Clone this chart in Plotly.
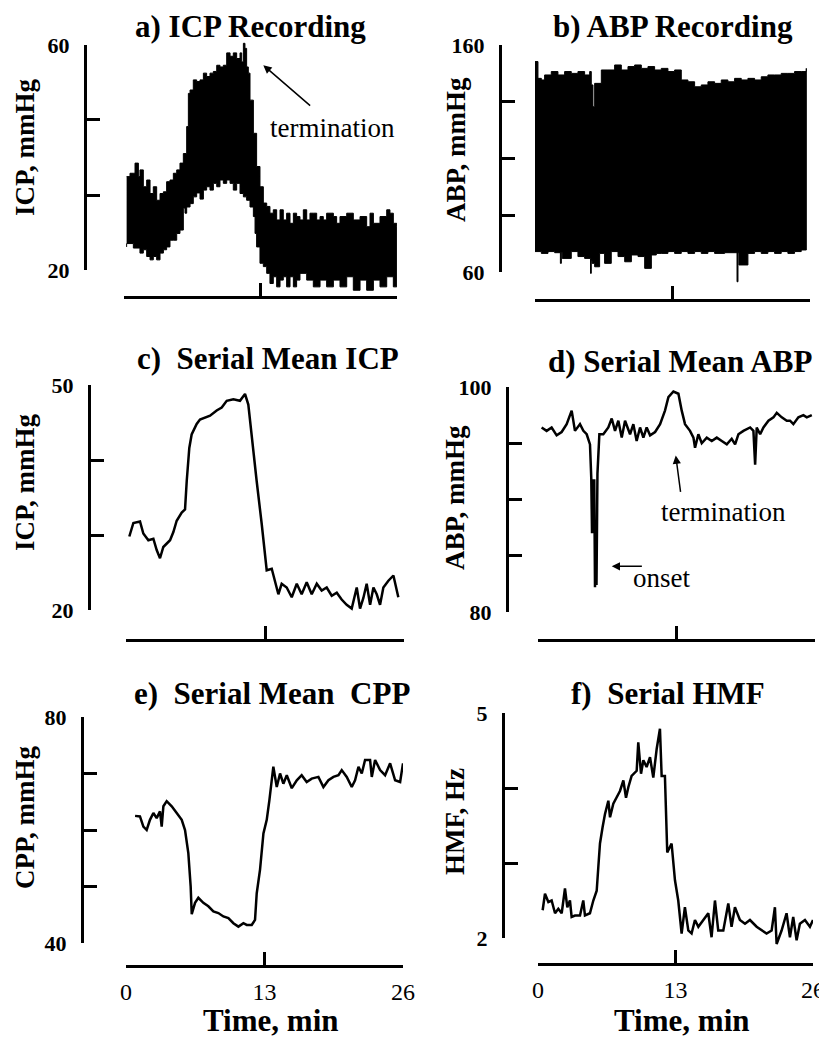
import plotly.graph_objects as go

# page body keeps its default 8 px margin, so the figure is 8 px smaller
PAGE_W, PAGE_H, OFF = 827, 1039, 8
W, H = PAGE_W - OFF, PAGE_H - OFF

# ---------------- data (time in min) ----------------
# a) ICP recording: upper / lower envelope of raw trace (mmHg)
icp_up_t = [0.25, 0.57, 0.89, 1.05, 1.37, 1.52, 1.84, 2.16, 2.48, 2.79,
            3.11, 3.43, 3.75, 4.06, 4.38, 4.70, 5.02, 5.33, 5.65, 5.97,
            6.13, 6.29, 6.60, 6.92, 7.24, 7.56, 7.87, 8.19, 8.51, 8.83,
            9.14, 9.46, 9.78, 10.10, 10.41, 10.73, 11.05, 11.21, 11.37, 11.52,
            11.68, 11.84, 12.0, 12.32, 12.63, 12.95, 13.27, 13.59, 13.90, 14.22,
            14.54, 14.86, 15.17, 15.49, 15.81, 16.13, 16.44, 16.76, 17.08, 17.40,
            17.71, 18.03, 18.35, 18.67, 18.98, 19.30, 19.94, 20.25, 20.57, 21.21,
            21.84, 22.48, 23.11, 23.43, 23.75, 24.38, 25.02, 25.33, 25.65, 25.97]
icp_up = [36.6, 37.2, 37.2, 39.0, 36.6, 37.8, 34.8, 36.0, 33.6, 34.8,
          32.4, 33.6, 33.9, 35.7, 36.0, 37.2, 37.8, 39.0, 40.7, 45.5,
          51.4, 52.0, 53.8, 53.5, 53.8, 55.0, 54.4, 55.0, 55.3, 56.4,
          56.1, 56.4, 58.6, 58.0, 58.6, 57.6, 58.6, 57.0, 60.3, 59.4,
          56.1, 55.0, 50.2, 44.3, 38.4, 34.8, 31.9, 31.3, 30.1, 30.7,
          28.9, 30.7, 28.9, 30.1, 28.3, 30.1, 29.5, 28.9, 30.7, 28.9,
          30.1, 30.1, 28.9, 29.5, 28.9, 30.1, 29.5, 28.3, 29.5, 30.1,
          28.9, 29.5, 27.7, 30.1, 28.3, 29.5, 30.7, 30.1, 28.3, 27.7]
icp_lo_t = [0.25, 0.89, 1.52, 1.84, 2.16, 2.48, 2.79, 3.11, 3.43, 3.75,
            4.06, 4.38, 4.70, 5.02, 5.33, 5.65, 5.81, 5.97, 6.29, 6.60,
            6.92, 7.24, 7.56, 7.87, 8.19, 8.51, 8.83, 9.14, 9.46, 9.78,
            10.10, 10.41, 10.73, 11.05, 11.37, 11.68, 12.0, 12.32, 12.48, 12.63,
            12.95, 13.27, 13.59, 13.90, 14.22, 14.54, 14.86, 15.17, 15.49, 15.81,
            16.13, 16.44, 16.76, 17.40, 18.03, 18.67, 19.30, 19.94, 20.57, 21.21,
            21.84, 22.48, 23.11, 23.75, 24.38, 25.02, 25.65, 25.97]
icp_lo = [24.1, 24.7, 23.9, 23.0, 23.6, 22.4, 21.8, 22.4, 21.8, 23.0,
          23.6, 24.1, 25.3, 25.3, 26.5, 27.1, 31.0, 30.1, 31.2, 31.8,
          33.0, 33.7, 32.6, 34.2, 34.8, 34.2, 35.4, 34.8, 36.0, 35.4,
          36.0, 35.4, 34.2, 35.4, 33.6, 33.0, 32.4, 31.2, 29.5, 26.5,
          24.1, 21.2, 20.6, 19.4, 17.6, 18.8, 17.0, 18.2, 18.8, 17.0,
          18.8, 17.0, 18.2, 19.4, 18.2, 17.0, 18.2, 17.0, 18.2, 17.0,
          18.8, 16.4, 18.2, 16.4, 18.2, 17.0, 18.8, 17.0]

# b) ABP recording envelope (mmHg)
abp_up_t = [0.0, 0.28, 0.60, 0.91, 1.54, 2.17, 2.80, 3.43, 4.06, 4.69,
            5.17, 5.32, 5.48, 5.64, 6.27, 6.90, 7.53, 8.16, 8.79, 9.42,
            10.05, 10.68, 11.31, 11.94, 12.57, 13.2, 13.83, 14.46, 15.09, 15.72,
            16.35, 16.98, 17.61, 18.24, 18.87, 19.5, 20.13, 20.76, 21.39, 22.02,
            22.65, 23.28, 23.91, 24.54, 25.17, 25.65]
abp_up = [152.7, 145.3, 144.6, 146.8, 148.3, 146.8, 148.3, 147.5, 148.3, 146.8,
          148.3, 142.4, 132.8, 143.1, 149.0, 149.0, 151.2, 149.0, 150.5, 151.2,
          149.7, 150.5, 149.0, 149.7, 148.3, 149.0, 144.6, 143.8, 141.6, 142.4,
          143.8, 143.1, 144.6, 143.8, 145.3, 144.6, 145.3, 144.6, 146.0, 146.8,
          146.8, 147.5, 147.5, 148.3, 148.3, 149.7]
abp_lo_t = [0.0, 0.60, 1.23, 1.86, 2.40, 2.49, 2.58, 3.43, 4.06, 4.69,
            5.25, 5.32, 5.40, 5.64, 6.11, 6.58, 7.21, 7.85, 8.48, 9.11,
            9.74, 10.37, 11.0, 11.47, 11.94, 12.57, 13.2, 13.83, 14.46, 15.09,
            15.72, 16.35, 16.98, 17.93, 19.10, 19.19, 19.28, 20.13, 20.76, 21.39,
            22.02, 22.65, 23.28, 23.91, 24.54, 25.17, 25.65]
abp_lo = [69.7, 69.0, 68.2, 69.0, 68.5, 63.8, 68.5, 66.0, 69.0, 66.8,
          66.0, 59.4, 65.0, 63.8, 62.3, 68.2, 63.8, 69.0, 66.8, 64.5,
          67.5, 66.8, 61.6, 67.5, 68.2, 68.2, 69.0, 68.2, 69.0, 68.2,
          69.0, 68.2, 69.0, 68.2, 68.5, 55.7, 68.5, 63.1, 68.2, 69.0,
          68.2, 69.0, 68.2, 69.0, 68.2, 69.0, 69.7]

# c) serial mean ICP (mmHg)
micp_t = [0.31, 0.69, 1.31, 1.62, 2.09, 2.56, 2.87, 3.18, 3.49, 4.12,
          4.43, 4.74, 5.21, 5.52, 5.68, 5.92, 6.14, 6.61, 6.92, 7.39,
          7.86, 8.48, 8.95, 9.42, 10.04, 10.66, 11.13, 11.44, 11.76, 12.22,
          12.69, 13.0, 13.16, 13.63, 13.94, 14.25, 14.56, 15.03, 15.5, 15.97,
          16.43, 16.9, 17.37, 17.84, 18.3, 18.77, 19.24, 19.71, 20.17, 20.64,
          21.11, 21.58, 21.89, 22.2, 22.51, 22.83, 23.14, 23.45, 23.76, 24.07,
          24.54, 25.01, 25.47]
micp = [29.8, 31.6, 31.8, 30.2, 29.3, 29.5, 28.0, 26.9, 28.4, 29.3,
        30.4, 31.9, 33.0, 33.4, 37.2, 41.6, 43.4, 44.8, 45.4, 45.7,
        45.9, 46.6, 47.0, 47.9, 48.1, 47.9, 48.8, 47.4, 43.0, 37.2,
        31.5, 27.0, 25.3, 25.5, 23.9, 22.1, 23.5, 23.0, 21.7, 23.5,
        22.1, 23.7, 22.1, 23.5, 22.6, 23.0, 21.9, 22.3, 21.4, 20.7,
        20.2, 23.0, 20.2, 21.6, 23.5, 20.7, 23.0, 22.1, 20.7, 23.0,
        23.9, 24.6, 21.7]

# d) serial mean ABP (mmHg)
mabp_t = [0.34, 0.81, 1.28, 1.75, 2.22, 2.69, 3.16, 3.47, 3.94, 4.26,
          4.57, 4.88, 5.0, 5.07, 5.14, 5.21, 5.28, 5.35, 5.42, 5.49,
          5.58, 5.76, 6.13, 6.6,
          6.92, 7.23, 7.54, 7.86, 8.17, 8.64, 8.95, 9.26, 9.58, 9.89,
          10.2, 10.52, 10.99, 11.46, 11.92, 12.24, 12.71, 13.18, 13.49, 13.8,
          14.27, 14.59, 14.74, 15.05, 15.37, 15.84, 16.31, 16.78, 17.25, 17.72,
          18.18, 18.5, 18.81, 19.28, 19.91, 20.22, 20.38, 20.53, 20.85, 21.16,
          21.63, 22.1, 22.41, 22.88, 23.35, 23.66, 23.97, 24.44, 24.91, 25.23,
          25.7]
mabp = [96.4, 96.1, 96.4, 95.7, 96.0, 96.7, 97.9, 96.1, 96.7, 96.1,
        95.8, 94.9, 91.9, 87.0, 91.8, 87.0, 91.8, 82.2, 87.0, 82.4,
        92.3, 95.8, 95.8, 96.4,
        97.2, 96.1, 97.0, 95.5, 97.0, 95.8, 96.7, 95.2, 96.4, 95.5,
        96.4, 95.7, 96.0, 96.7, 97.9, 99.1, 99.6, 99.4, 97.9, 96.7,
        96.1, 95.5, 94.6, 95.8, 95.0, 95.5, 95.2, 95.5, 95.2, 94.9,
        95.4, 94.9, 95.8, 96.1, 96.4, 96.1, 93.1, 96.4, 95.8, 96.4,
        97.0, 97.3, 97.7, 97.3, 97.0, 97.0, 96.7, 97.3, 97.5, 97.3,
        97.5]

# e) serial mean CPP (mmHg)
mcpp_t = [0.85, 1.31, 1.63, 1.94, 2.25, 2.57, 2.88, 3.19, 3.35, 3.51,
          3.82, 4.29, 4.76, 5.23, 5.54, 5.85, 6.07, 6.17, 6.48, 6.79,
          7.26, 7.73, 8.2, 8.67, 9.14, 9.61, 10.08, 10.55, 11.02, 11.33,
          11.8, 12.11, 12.27, 12.58, 12.9, 13.21, 13.46, 13.68, 13.83, 14.15,
          14.46, 14.77, 15.09, 15.56, 16.03, 16.49, 16.96, 17.43, 18.06, 18.53,
          19.0, 19.47, 19.94, 20.25, 20.72, 21.19, 21.5, 21.82, 22.13, 22.44,
          22.91, 23.07, 23.38, 23.85, 24.32, 24.79, 25.26, 25.73, 26.0]
mcpp = [62.5, 62.4, 60.6, 60.0, 61.8, 63.0, 62.1, 63.3, 60.6, 64.2,
        65.1, 64.2, 63.0, 61.8, 60.0, 55.9, 50.0, 45.1, 47.1, 48.0,
        47.1, 46.5, 45.6, 45.3, 44.7, 44.4, 43.5, 42.9, 43.5, 43.2,
        43.2, 44.1, 48.8, 53.0, 59.4, 61.8, 65.3, 68.8, 71.2, 67.6,
        70.0, 68.2, 69.7, 67.4, 68.8, 69.7, 68.5, 69.1, 69.4, 67.6,
        68.8, 69.4, 69.7, 70.6, 69.4, 67.6, 68.8, 71.2, 70.0, 72.4,
        72.4, 69.4, 72.4, 70.6, 69.7, 71.8, 68.8, 68.5, 71.8]

# f) serial HMF (Hz)
hmf_t = [0.44, 0.66, 0.98, 1.29, 1.61, 1.92, 2.24, 2.55, 2.77, 3.02,
         3.18, 3.5, 3.97, 4.28, 4.44, 4.91, 5.23, 5.55, 5.7, 5.86,
         6.11, 6.33, 6.65, 6.81, 7.12, 7.44, 7.75, 8.07, 8.32, 8.54,
         8.85, 9.33, 9.48, 9.74, 9.96, 10.27, 10.59, 10.9, 11.22, 11.53,
         11.69, 12.0, 12.22, 12.63, 12.95, 13.26, 13.58, 13.89, 14.21, 14.52,
         14.84, 15.16, 15.63, 16.1, 16.41, 16.73, 17.04, 17.52, 17.99, 18.3,
         18.62, 19.09, 19.57, 20.04, 20.67, 21.14, 21.61, 22.09, 22.4, 22.56,
         23.03, 23.5, 23.82, 24.13, 24.45, 24.76, 25.24, 25.71, 26.0]
hmf = [2.37, 2.59, 2.48, 2.50, 2.33, 2.39, 2.33, 2.66, 2.41, 2.50,
       2.28, 2.30, 2.30, 2.50, 2.30, 2.33, 2.50, 2.63, 2.94, 3.26,
       3.48, 3.65, 3.83, 3.61, 3.79, 3.87, 3.96, 4.10, 3.87, 4.01,
       4.16, 4.23, 4.61, 4.19, 4.37, 4.28, 4.41, 4.14, 4.52, 4.79,
       4.16, 4.16, 3.14, 3.26, 2.77, 2.50, 2.06, 2.41, 2.10, 2.06,
       2.24, 2.15, 2.24, 2.33, 2.01, 2.50, 2.10, 2.10, 2.46, 2.15,
       2.41, 2.24, 2.19, 2.24, 2.15, 2.10, 2.06, 2.10, 2.41, 1.92,
       2.10, 2.33, 2.01, 2.28, 1.97, 2.19, 2.24, 2.15, 2.24]

x_ticks = [0, 13, 26]
x_ticktext = ["0", "13", "26"]
titles = ["a) ICP Recording", "b) ABP Recording", "c)  Serial Mean ICP",
          "d) Serial Mean ABP", "e)  Serial Mean  CPP", "f)  Serial HMF"]
ytitles = ["ICP, mmHg", "ABP, mmHg", "ICP, mmHg", "ABP, mmHg", "CPP, mmHg", "HMF, Hz"]
yticks = [[20, 33.33, 46.67, 60], [60, 85, 110, 135, 160], [20, 30, 40, 50],
          [80, 85, 90, 95, 100], [40, 50, 60, 70, 80], [2, 3, 4, 5]]
xlabel = "Time, min"

# ---------------- layout geometry (page pixels) ----------------
geo = [
    dict(xl=124, xr=397, xline=297, yt=45, yb=270, yline=85, dt=28, db=298,
         tx=250, ty=26, ytx=25, yty=147),
    dict(xl=535, xr=810, xline=300, yt=45, yb=272, yline=500, dt=28, db=298,
         tx=673, ty=26, ytx=456, yty=150),
    dict(xl=126, xr=404, xline=640, yt=385, yb=610, yline=89, dt=368, db=632,
         tx=268, ty=358, ytx=25, yty=482),
    dict(xl=538, xr=815, xline=640, yt=387, yb=612, yline=507, dt=368, db=632,
         tx=680, ty=361, ytx=455, yty=497),
    dict(xl=126, xr=403, xline=966, yt=717, yb=943, yline=82, dt=700, db=962,
         tx=272, ty=693, ytx=25, yty=818),
    dict(xl=538, xr=813, xline=964, yt=713, yb=938, yline=503, dt=700, db=962,
         tx=668, ty=693, ytx=455, yty=821),
]


def px_x(p):
    return (p - OFF) / W


def px_y(p):
    return 1 - (p - OFF) / H


FONT = "Liberation Serif"
fig = go.Figure()
layout = dict(width=W, height=H,
              margin=dict(l=0, r=0, t=0, b=0, pad=0, autoexpand=False),
              paper_bgcolor="white", plot_bgcolor="rgba(0,0,0,0)",
              showlegend=False, font=dict(family=FONT, color="black"))
annotations = []

series = [
    ("env", icp_up_t, icp_up, icp_lo_t, icp_lo),
    ("env", abp_up_t, abp_up, abp_lo_t, abp_lo),
    ("line", micp_t, micp),
    ("line", mabp_t, mabp),
    ("line", mcpp_t, mcpp),
    ("line", hmf_t, hmf),
]

for i in range(1, 7):
    g = geo[i - 1]
    ticks = yticks[i - 1]
    lo, hi = ticks[0], ticks[-1]
    xname = "xaxis" if i == 1 else f"xaxis{i}"
    xref = "x" if i == 1 else f"x{i}"
    fy = 2 * i - 1
    dy = 2 * i
    fyname = "yaxis" if fy == 1 else f"yaxis{fy}"
    fyref = "y" if fy == 1 else f"y{fy}"
    dyname = f"yaxis{dy}"
    dyref = f"y{dy}"
    bottom = i >= 5

    layout[xname] = dict(
        domain=[px_x(g["xl"]), px_x(g["xr"])], range=[0, 26],
        anchor="free", position=px_y(g["xline"]), automargin=False,
        showline=True, linewidth=3, linecolor="black", mirror=False,
        ticks="inside", ticklen=13, tickwidth=3, tickcolor="black",
        tickvals=x_ticks, ticktext=x_ticktext, showticklabels=bottom,
        tickfont=dict(family=FONT, size=24, color="black"),
        ticklabelstandoff=3,
        showgrid=False, zeroline=False, fixedrange=True)

    labels = [str(ticks[0])] + [""] * (len(ticks) - 2) + [str(ticks[-1])]
    layout[fyname] = dict(
        domain=[px_y(g["yb"]), px_y(g["yt"])], range=[lo, hi],
        anchor="free", position=px_x(g["yline"]), automargin=False,
        showline=True, linewidth=3, linecolor="black",
        ticks="inside", ticklen=13, tickwidth=3, tickcolor="black",
        tickvals=ticks, ticktext=labels,
        tickfont=dict(family=FONT, size=22, color="black", weight="bold"),
        ticklabelstandoff=10,
        showgrid=False, zeroline=False, fixedrange=True)

    s = (hi - lo) / (g["yb"] - g["yt"])
    r_lo = lo - (g["db"] - g["yb"]) * s
    r_hi = hi + (g["yt"] - g["dt"]) * s
    layout[dyname] = dict(
        domain=[px_y(g["db"]), px_y(g["dt"])], range=[r_lo, r_hi],
        anchor=xref, visible=False, fixedrange=True)

    fig.add_trace(go.Scatter(x=[], y=[], xaxis=xref, yaxis=fyref,
                             mode="lines", hoverinfo="skip"))

    sdef = series[i - 1]
    if sdef[0] == "env":
        _, ut, uv, lt, lv = sdef
        fig.add_trace(go.Scatter(
            x=list(ut) + list(lt)[::-1], y=list(uv) + list(lv)[::-1],
            xaxis=xref, yaxis=dyref, mode="lines", fill="toself",
            fillcolor="black", line=dict(color="black", width=1, shape="hv"),
            hoverinfo="skip"))
    else:
        _, tt, vv = sdef
        fig.add_trace(go.Scatter(
            x=tt, y=vv, xaxis=xref, yaxis=dyref, mode="lines",
            line=dict(color="black", width=2.5), hoverinfo="skip"))

    annotations.append(dict(
        text=f"<b>{titles[i - 1]}</b>", xref="paper", yref="paper",
        x=px_x(g["tx"]), y=px_y(g["ty"]), xanchor="center", yanchor="middle",
        showarrow=False, font=dict(family=FONT, size=31, color="black")))
    annotations.append(dict(
        text=f"<b>{ytitles[i - 1]}</b>", xref="paper", yref="paper",
        x=px_x(g["ytx"]), y=px_y(g["yty"]), xanchor="center", yanchor="middle",
        textangle=-90, showarrow=False,
        font=dict(family=FONT, size=27, color="black")))
    if bottom:
        annotations.append(dict(
            text=f"<b>{xlabel}</b>", xref="paper", yref="paper",
            x=px_x((g["xl"] + g["xr"]) / 2 + 6), y=px_y(1020),
            xanchor="center", yanchor="middle", showarrow=False,
            font=dict(family=FONT, size=31, color="black")))

notes = [
    (1, "termination", 19.9, 45.2, 13.27, 56.4, 17.87, 49.0),
    (4, "termination", 17.4, 88.9, 12.93, 93.9, 13.4, 90.55),
    (4, "onset", 11.6, 83.0, 6.92, 84.06, 9.89, 84.06),
]
for (p, txt, tt, tv, xt, yt_, xa, ya) in notes:
    xref = "x" if p == 1 else f"x{p}"
    yref = f"y{2 * p}"
    annotations.append(dict(
        text=txt, xref=xref, yref=yref, x=tt, y=tv, showarrow=False,
        xanchor="center", yanchor="middle",
        font=dict(family=FONT, size=27, color="black")))
    annotations.append(dict(
        text="", xref=xref, yref=yref, x=xt, y=yt_, axref=xref, ayref=yref,
        ax=xa, ay=ya, showarrow=True, arrowhead=2, arrowsize=1.1,
        arrowwidth=1.5, arrowcolor="black", standoff=0, startstandoff=0))

layout["annotations"] = annotations
fig.update_layout(**layout)
fig.write_html("out.html")
